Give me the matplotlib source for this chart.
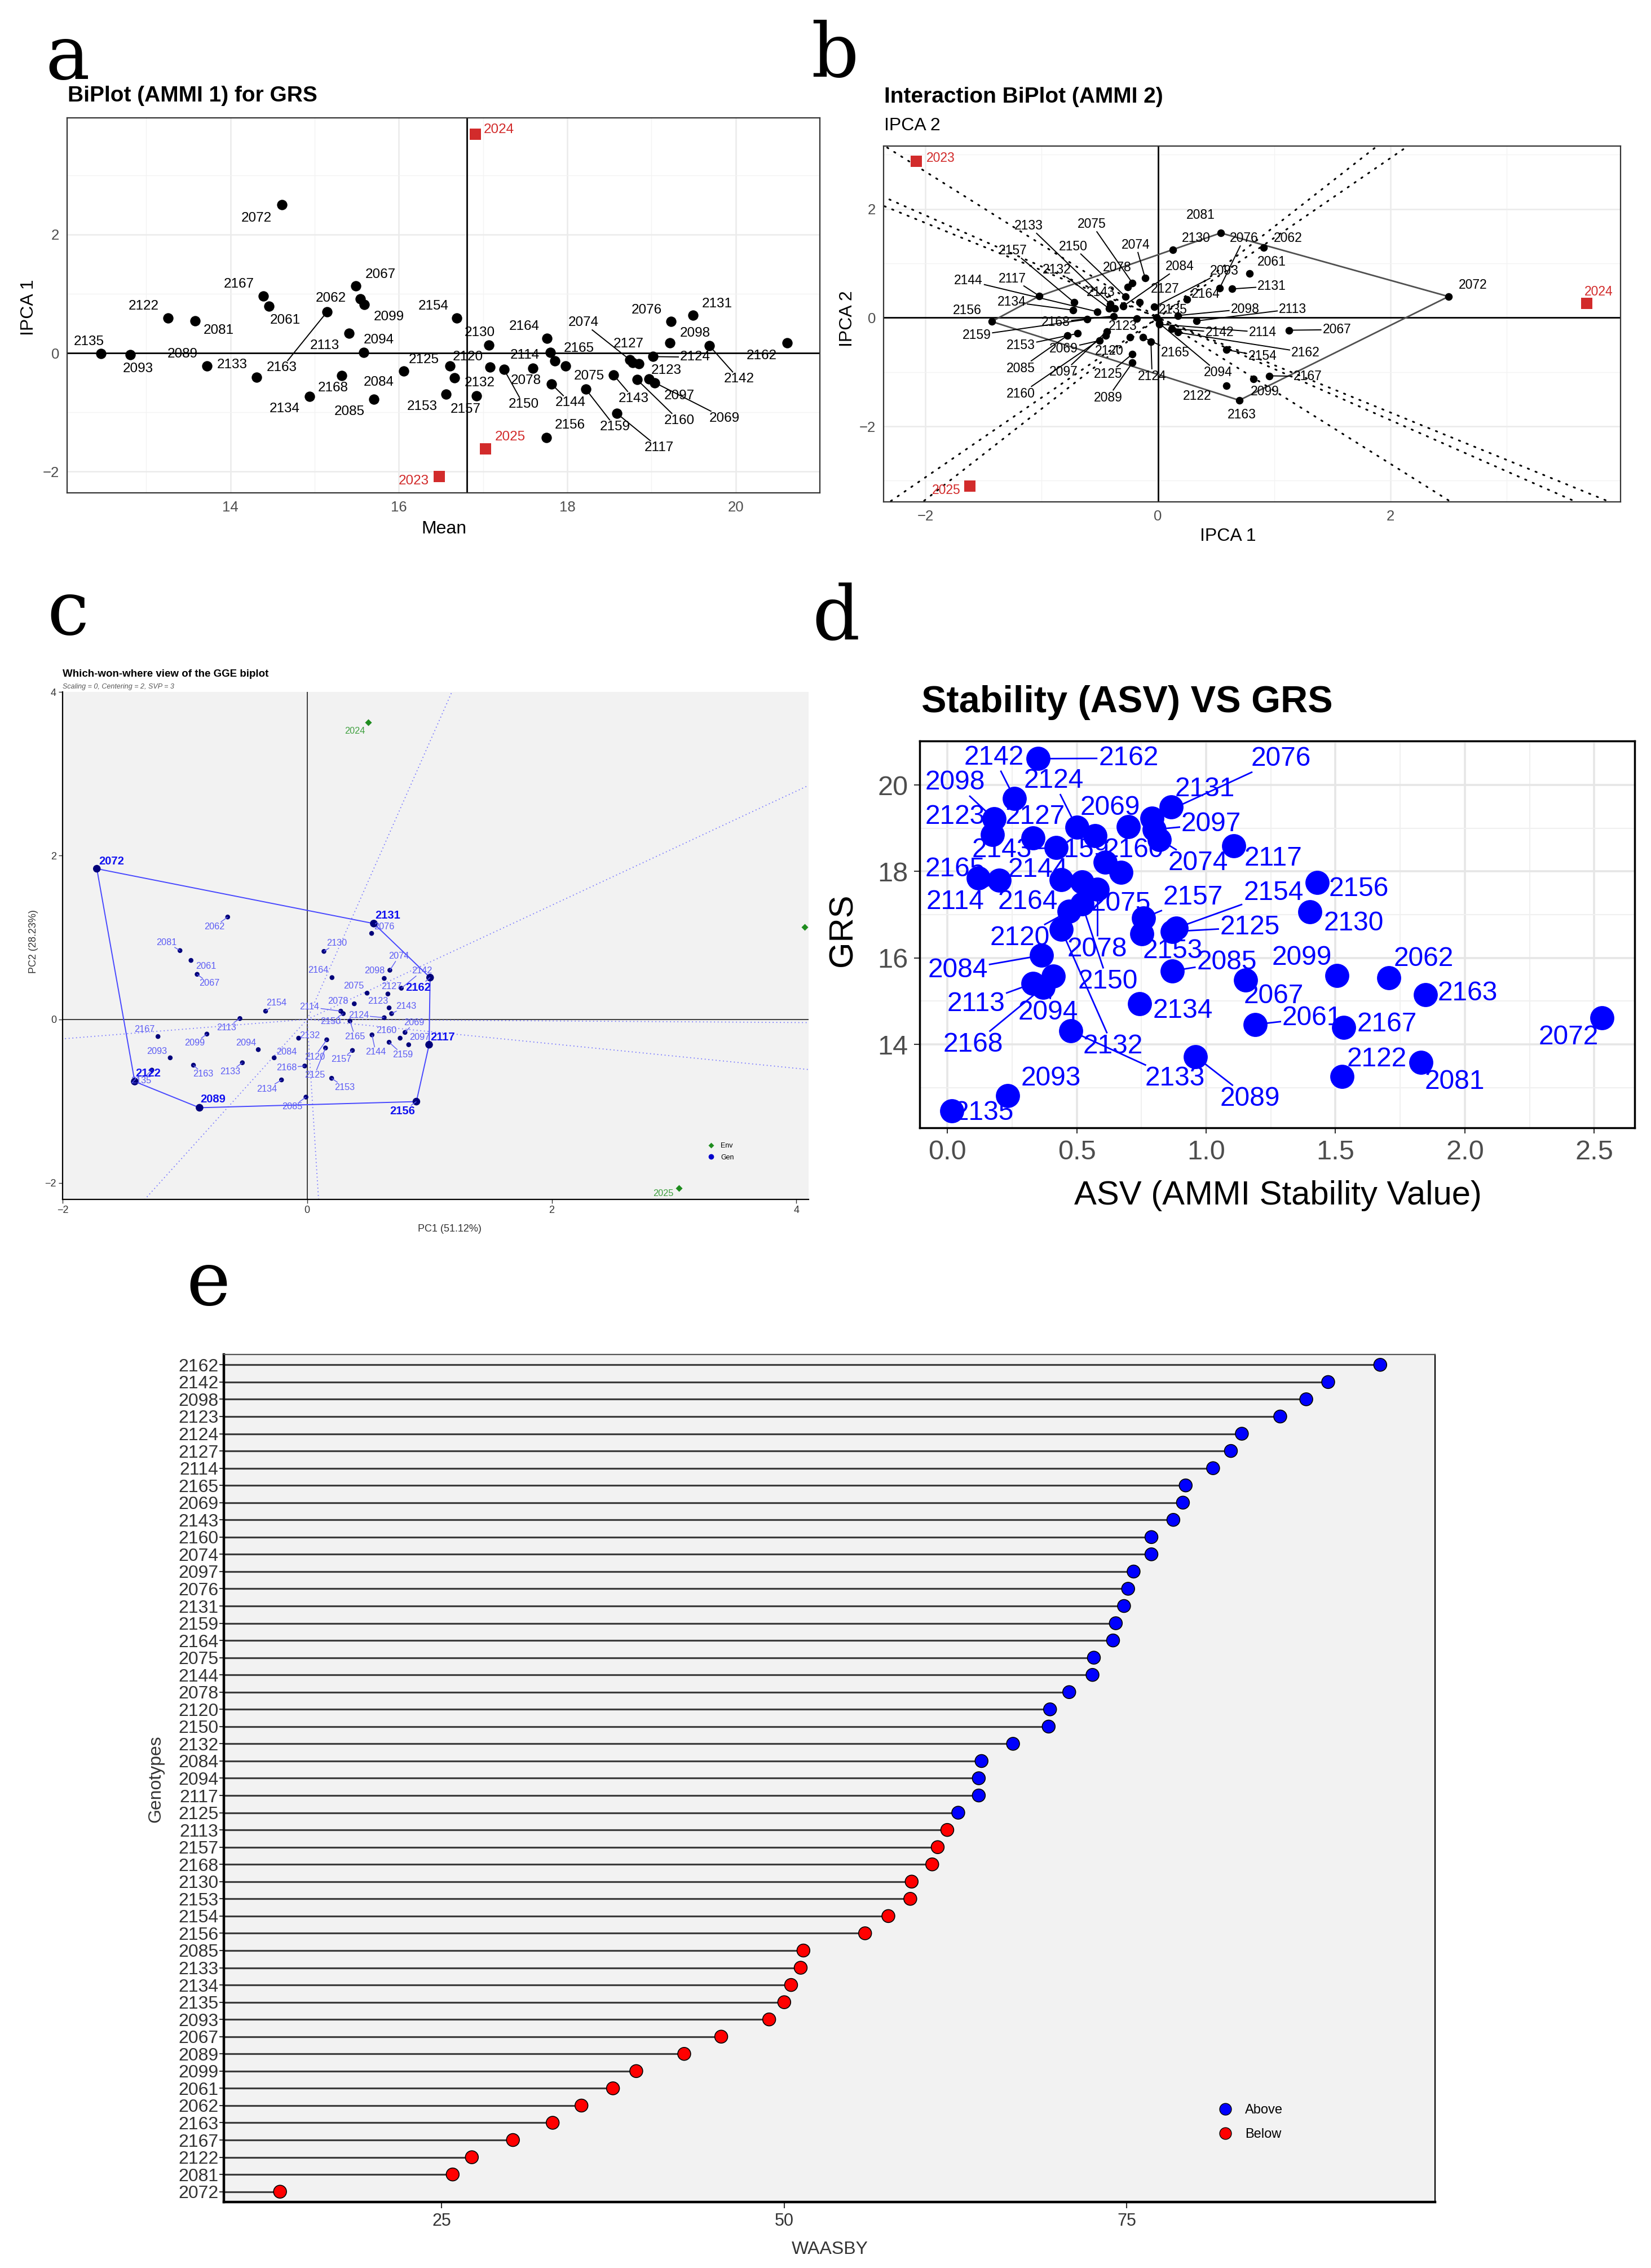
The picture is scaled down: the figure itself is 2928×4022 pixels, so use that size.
import numpy as np
import matplotlib
matplotlib.use("Agg")
import matplotlib.pyplot as plt
from matplotlib.lines import Line2D

plt.rcParams['font.family'] = ['Liberation Sans', 'DejaVu Sans']

# ---------------- data (genotypes in WAASBY rank order) ----------------
genotypes = ["2162", "2142", "2098", "2123", "2124", "2127", "2114", "2165", "2069", "2143",
             "2160", "2074", "2097", "2076", "2131", "2159", "2164", "2075", "2144", "2078",
             "2120", "2150", "2132", "2084", "2094", "2117", "2125", "2113", "2157", "2168",
             "2130", "2153", "2154", "2156", "2085", "2133", "2134", "2135", "2093", "2067",
             "2089", "2099", "2061", "2062", "2163", "2167", "2122", "2081", "2072"]
grs_mean = [20.61, 19.69, 19.22, 18.85, 19.02, 18.78, 17.80, 17.85, 19.04, 18.55,
            18.83, 18.74, 18.97, 19.23, 19.49, 18.22, 17.76, 17.98, 17.81, 17.59,
            17.08, 17.25, 16.66, 16.06, 15.58, 18.59, 16.61, 15.41, 16.92, 15.32,
            17.07, 16.56, 16.69, 17.75, 15.70, 14.31, 14.94, 12.46, 12.81, 15.49,
            13.72, 15.59, 14.46, 15.54, 15.15, 14.39, 13.26, 13.58, 14.61]
ipca1 = [0.17, 0.12, 0.17, -0.18, -0.06, -0.16, 0.01, -0.13, -0.50, -0.37,
         -0.45, -0.11, -0.44, 0.53, 0.64, -0.61, 0.25, -0.22, -0.52, -0.26,
         -0.24, -0.28, -0.42, -0.30, 0.01, -1.02, -0.22, 0.33, -0.72, -0.38,
         0.13, -0.69, 0.59, -1.43, -0.78, -0.41, -0.73, -0.01, -0.03, 1.13,
         -0.22, 0.82, 0.79, 0.91, 0.70, 0.96, 0.59, 0.54, 2.50]
ipca2 = [-0.27, -0.20, 0.04, -0.02, -0.44, 0.28, -0.12, -0.36, -0.42, 0.17,
         -0.33, 0.73, -0.25, 0.54, 0.53, -0.03, 0.34, 0.64, 0.11, 0.56,
         -0.36, 0.39, 0.17, 0.21, -0.10, 0.40, -0.67, -0.06, 0.28, 0.03,
         1.25, -0.29, -0.59, -0.07, -0.33, 0.25, 0.14, 0.00, 0.20, -0.23,
         -0.83, -1.13, 0.81, 1.29, -1.52, -1.07, -1.25, 1.56, 0.39]
asv = [0.35, 0.26, 0.18, 0.175, 0.50, 0.33, 0.20, 0.12, 0.70, 0.42,
       0.57, 0.82, 0.80, 0.79, 0.865, 0.61, 0.52, 0.67, 0.44, 0.58,
       0.47, 0.52, 0.44, 0.364, 0.41, 1.107, 0.87, 0.33, 0.757, 0.37,
       1.40, 0.752, 0.884, 1.43, 0.869, 0.478, 0.742, 0.017, 0.233, 1.152,
       0.959, 1.506, 1.19, 1.705, 1.847, 1.532, 1.526, 1.83, 2.53]
gge_pc1 = [1.005, 0.77, 0.63, 0.67, 0.63, 0.66, 0.275, 0.35, 0.80, 0.69,
           0.76, 0.676, 0.83, 0.527, 0.545, 0.67, 0.203, 0.49, 0.53, 0.385,
           0.16, 0.295, -0.07, -0.27, -0.40, 0.997, 0.15, -0.55, 0.37, -0.02,
           0.137, 0.20, -0.34, 0.893, -0.01, -0.53, -0.21, -1.27, -1.12, -0.90,
           -0.88, -0.82, -0.95, -0.65, -0.93, -1.22, -1.41, -1.04, -1.72]
gge_pc2 = [0.51, 0.38, 0.50, 0.14, 0.02, 0.31, 0.10, -0.02, -0.16, 0.07,
           -0.23, 0.60, -0.31, 1.05, 1.17, -0.28, 0.51, 0.32, -0.19, 0.19,
           -0.25, 0.07, -0.23, -0.47, -0.37, -0.31, -0.35, 0.01, -0.38, -0.57,
           0.83, -0.72, 0.10, -1.005, -0.95, -0.53, -0.74, -0.62, -0.47, 0.55,
           -1.08, -0.18, 0.72, 1.25, -0.56, -0.21, -0.76, 0.84, 1.84]
waasby = [93.5, 89.7, 88.1, 86.2, 83.4, 82.6, 81.3, 79.3, 79.1, 78.4,
          76.8, 76.8, 75.5, 75.1, 74.8, 74.2, 74.0, 72.6, 72.5, 70.8,
          69.4, 69.3, 66.7, 64.4, 64.2, 64.2, 62.7, 61.9, 61.2, 60.8,
          59.3, 59.2, 57.6, 55.9, 51.4, 51.2, 50.5, 50.0, 48.9, 45.4,
          42.7, 39.2, 37.5, 35.2, 33.1, 30.2, 27.2, 25.8, 13.2]

env_names = ["2023", "2024", "2025"]
env_mean = [16.48, 16.91, 17.03]
env_ipca1 = [-2.08, 3.69, -1.62]
env_ipca2 = [2.88, 0.26, -3.10]
env_pc1 = [4.07, 0.50, 3.04]
env_pc2 = [1.13, 3.63, -2.06]

# ---------------- label layout (label centres, data units) ----------------
lab_a = {"2135": (12.32, 0.19), "2093": (12.90, -0.27), "2122": (12.97, 0.79), "2081": (13.86, 0.38),
         "2089": (13.43, -0.02), "2133": (14.02, -0.20), "2167": (14.10, 1.16), "2061": (14.65, 0.55),
         "2072": (14.31, 2.28), "2062": (15.19, 0.92), "2067": (15.78, 1.32), "2099": (15.88, 0.61),
         "2113": (15.12, 0.12), "2094": (15.76, 0.22), "2163": (14.61, -0.25), "2168": (15.22, -0.59),
         "2134": (14.64, -0.94), "2085": (15.41, -0.99), "2084": (15.76, -0.49), "2153": (16.28, -0.90),
         "2125": (16.30, -0.11), "2154": (16.41, 0.79), "2130": (16.96, 0.34), "2120": (16.82, -0.07),
         "2132": (16.96, -0.50), "2157": (16.79, -0.95), "2150": (17.48, -0.87), "2078": (17.51, -0.47),
         "2164": (17.49, 0.45), "2114": (17.50, -0.04), "2165": (18.14, 0.08), "2144": (18.04, -0.84),
         "2156": (18.03, -1.22), "2074": (18.19, 0.51), "2127": (18.73, 0.15), "2075": (18.26, -0.39),
         "2159": (18.57, -1.25), "2143": (18.79, -0.77), "2117": (19.09, -1.60), "2124": (19.52, -0.07),
         "2123": (19.18, -0.29), "2097": (19.33, -0.72), "2160": (19.33, -1.14), "2069": (19.87, -1.10),
         "2076": (18.94, 0.72), "2131": (19.78, 0.83), "2098": (19.52, 0.33), "2142": (20.04, -0.44),
         "2162": (20.31, -0.05)}
seg_a = {"2163", "2150", "2144", "2074", "2159", "2143", "2117", "2124", "2160", "2069", "2142"}
env_lab_a = {"2023": (16.18, -2.16), "2024": (17.19, 3.77), "2025": (17.32, -1.42)}

lab_b = {"2081": (0.37, 1.89), "2130": (0.33, 1.46), "2076": (0.74, 1.46), "2062": (1.12, 1.46),
         "2061": (0.98, 1.03), "2131": (0.98, 0.58), "2113": (1.16, 0.16), "2098": (0.75, 0.16),
         "2093": (0.57, 0.86), "2164": (0.41, 0.43), "2084": (0.19, 0.94), "2074": (-0.19, 1.34),
         "2075": (-0.57, 1.72), "2150": (-0.73, 1.31), "2133": (-1.11, 1.69), "2157": (-1.25, 1.23),
         "2132": (-0.87, 0.88), "2078": (-0.35, 0.92), "2144": (-1.63, 0.68), "2117": (-1.25, 0.72),
         "2134": (-1.26, 0.29), "2143": (-0.49, 0.47), "2127": (0.06, 0.53), "2135": (0.13, 0.14),
         "2156": (-1.64, 0.13), "2168": (-0.88, -0.08), "2159": (-1.56, -0.32), "2123": (-0.30, -0.16),
         "2142": (0.53, -0.27), "2114": (0.90, -0.27), "2067": (1.54, -0.22), "2162": (1.27, -0.64),
         "2154": (0.90, -0.71), "2167": (1.29, -1.08), "2099": (0.92, -1.36), "2153": (-1.18, -0.51),
         "2069": (-0.81, -0.57), "2120": (-0.42, -0.61), "2165": (0.15, -0.64), "2085": (-1.18, -0.93),
         "2097": (-0.81, -1.00), "2125": (-0.43, -1.04), "2124": (-0.05, -1.08), "2094": (0.52, -1.01),
         "2160": (-1.18, -1.40), "2089": (-0.43, -1.47), "2122": (0.34, -1.44), "2163": (0.72, -1.79),
         "2072": (2.71, 0.60)}
env_lab_b = {"2023": (-1.87, 2.94), "2024": (3.79, 0.48), "2025": (-1.82, -3.18)}

lab_c = {"2072": (-1.60, 1.93), "2062": (-0.76, 1.13), "2081": (-1.15, 0.94), "2061": (-0.83, 0.65),
         "2067": (-0.80, 0.44), "2154": (-0.25, 0.20), "2113": (-0.66, -0.10), "2167": (-1.33, -0.12),
         "2099": (-0.92, -0.29), "2093": (-1.23, -0.39), "2094": (-0.50, -0.29), "2163": (-0.85, -0.67),
         "2133": (-0.63, -0.64), "2122": (-1.30, -0.66), "2135": (-1.36, -0.75), "2089": (-0.77, -0.98),
         "2084": (-0.17, -0.40), "2168": (-0.17, -0.59), "2134": (-0.33, -0.85), "2085": (-0.12, -1.07),
         "2132": (0.02, -0.20), "2120": (0.06, -0.46), "2125": (0.06, -0.68), "2153": (0.305, -0.83),
         "2157": (0.28, -0.49), "2131": (0.66, 1.27), "2076": (0.63, 1.13), "2130": (0.24, 0.93),
         "2164": (0.09, 0.60), "2074": (0.75, 0.77), "2098": (0.55, 0.59), "2142": (0.94, 0.59),
         "2162": (0.91, 0.39), "2127": (0.69, 0.40), "2075": (0.38, 0.41), "2123": (0.58, 0.22),
         "2143": (0.81, 0.16), "2124": (0.42, 0.05), "2078": (0.25, 0.22), "2114": (0.02, 0.15),
         "2150": (0.19, -0.03), "2165": (0.39, -0.21), "2069": (0.875, -0.04), "2160": (0.65, -0.14),
         "2097": (0.92, -0.22), "2117": (1.11, -0.22), "2144": (0.56, -0.40), "2159": (0.78, -0.43),
         "2156": (0.78, -1.125)}
env_lab_c = {"2024": (0.39, 3.52), "2025": (2.91, -2.13)}

lab_d = {"2162": (0.70, 20.62), "2142": (0.18, 20.64), "2098": (0.03, 20.06), "2124": (0.41, 20.10),
         "2123": (0.03, 19.27), "2127": (0.34, 19.27), "2069": (0.63, 19.48), "2131": (0.995, 19.91),
         "2076": (1.29, 20.61), "2097": (1.02, 19.10), "2074": (0.97, 18.19), "2117": (1.26, 18.30),
         "2143": (0.21, 18.50), "2159": (0.51, 18.50), "2160": (0.72, 18.49), "2165": (0.03, 18.05),
         "2144": (0.35, 18.04), "2114": (0.03, 17.29), "2164": (0.31, 17.29), "2075": (0.67, 17.25),
         "2157": (0.95, 17.40), "2154": (1.26, 17.50), "2125": (1.17, 16.71), "2156": (1.59, 17.59),
         "2130": (1.57, 16.80), "2120": (0.28, 16.46), "2078": (0.58, 16.20), "2153": (0.87, 16.16),
         "2085": (1.08, 15.90), "2099": (1.37, 16.01), "2062": (1.84, 15.98), "2084": (0.04, 15.72),
         "2150": (0.62, 15.45), "2067": (1.26, 15.12), "2163": (2.01, 15.18), "2113": (0.11, 14.93),
         "2094": (0.39, 14.74), "2134": (0.91, 14.78), "2061": (1.41, 14.61), "2167": (1.70, 14.46),
         "2072": (2.40, 14.16), "2168": (0.10, 13.99), "2132": (0.64, 13.95), "2122": (1.66, 13.66),
         "2081": (1.96, 13.13), "2133": (0.88, 13.21), "2089": (1.17, 12.74), "2093": (0.40, 13.21),
         "2135": (0.14, 12.42)}

# ---------------- figure helpers ----------------
W, H = 2928, 4022
fig = plt.figure(figsize=(W / 100, H / 100), dpi=100)


def axes_px(x0, y0, x1, y1):
    return fig.add_axes([x0 / W, 1 - y1 / H, (x1 - x0) / W, (y1 - y0) / H])


def ftext(x, y, s, **kw):
    return fig.text(x / W, 1 - y / H, s, **kw)


pending = []


def add_labels(ax, names, xs, ys, pos, fs, color, seg_color, seg_lw, minlen,
               zorder=4, weight='normal', force=None, bold_set=None, bold_fs=None, bold_color=None):
    for g, x, y in zip(names, xs, ys):
        if g not in pos:
            continue
        lx, ly = pos[g]
        w, f, c = weight, fs, color
        if bold_set is not None and g in bold_set:
            w, f, c = 'bold', bold_fs, bold_color
        t = ax.text(lx, ly, g, ha='center', va='center', fontsize=f, color=c,
                    fontweight=w, zorder=zorder, clip_on=True)
        pending.append((ax, t, g, x, y, seg_color, seg_lw, minlen, force))


def convex_hull(xs, ys):
    pts = sorted(set(zip(xs, ys)))

    def cross(o, a, b):
        return (a[0] - o[0]) * (b[1] - o[1]) - (a[1] - o[1]) * (b[0] - o[0])
    lower, upper = [], []
    for p in pts:
        while len(lower) >= 2 and cross(lower[-2], lower[-1], p) <= 0:
            lower.pop()
        lower.append(p)
    for p in reversed(pts):
        while len(upper) >= 2 and cross(upper[-2], upper[-1], p) <= 0:
            upper.pop()
        upper.append(p)
    return lower[:-1] + upper[:-1]


def perp_feet(hull):
    feet = []
    for i in range(len(hull)):
        P = np.array(hull[i]); Q = np.array(hull[(i + 1) % len(hull)])
        d = Q - P
        t = -np.dot(P, d) / np.dot(d, d)
        feet.append(P + t * d)
    return feet


tick_grey = '#4D4D4D'

# ======================= panel a =======================
axA = axes_px(119, 209, 1454, 874)
axA.set_xlim(12.06, 21.0)
axA.set_ylim(-2.36, 3.97)
axA.set_xticks([14, 16, 18, 20])
axA.set_yticks([-2, 0, 2])
axA.set_xticks([13, 15, 17, 19], minor=True)
axA.set_yticks([-1, 1, 3], minor=True)
axA.grid(which='major', color='#EBEBEB', lw=1.8)
axA.grid(which='minor', color='#F3F3F3', lw=1.0)
axA.set_axisbelow(True)
axA.tick_params(which='both', length=0, labelsize=18.5, labelcolor=tick_grey, pad=10)
for sp in axA.spines.values():
    sp.set_color('#333333'); sp.set_linewidth(1.6)
axA.axhline(0, color='black', lw=2.0, zorder=1.5)
axA.axvline(np.mean(env_mean), color='black', lw=2.0, zorder=1.5)
axA.scatter(grs_mean, ipca1, s=175, c='black', zorder=3, linewidths=0)
axA.scatter(env_mean, env_ipca1, s=210, marker='s', c='#D22B2B', zorder=3, linewidths=0)
add_labels(axA, genotypes, grs_mean, ipca1, lab_a, 17.5, 'black', 'black', 1.4, 0, force=seg_a)
for g, x, y in zip(env_names, env_mean, env_ipca1):
    lx, ly = env_lab_a[g]
    axA.text(lx, ly, g, ha='center', va='center', fontsize=17.5, color='#D22B2B', zorder=4)
ftext(120, 170, "BiPlot (AMMI 1) for GRS", fontsize=28, fontweight='bold', ha='left', va='center')
ftext(787, 938, "Mean", fontsize=23, ha='center', va='center')
ftext(51, 545, "IPCA 1", fontsize=23, ha='center', va='center', rotation=90)
ftext(120, 103, "a", fontsize=95, family='DejaVu Serif', ha='center', va='center')

# ======================= panel b =======================
axB = axes_px(1567, 259, 2874, 890)
axB.set_xlim(-2.36, 3.98)
axB.set_ylim(-3.39, 3.16)
axB.set_xticks([-2, 0, 2])
axB.set_yticks([-2, 0, 2])
axB.set_xticks([-1, 1, 3], minor=True)
axB.set_yticks([-3, -1, 1, 3], minor=True)
axB.grid(which='major', color='#EBEBEB', lw=1.8)
axB.grid(which='minor', color='#F3F3F3', lw=1.0)
axB.set_axisbelow(True)
axB.tick_params(which='both', length=0, labelsize=18.5, labelcolor=tick_grey, pad=10)
for sp in axB.spines.values():
    sp.set_color('#333333'); sp.set_linewidth(1.6)
axB.axhline(0, color='black', lw=2.0, zorder=1.5)
axB.axvline(0, color='black', lw=2.0, zorder=1.5)
hullB = convex_hull(ipca1, ipca2)
hb = hullB + [hullB[0]]
axB.plot([p[0] for p in hb], [p[1] for p in hb], color='#505050', lw=2.0, zorder=2)
for f in perp_feet(hullB):
    n = f / np.linalg.norm(f)
    axB.plot([-20 * n[0], 20 * n[0]], [-20 * n[1], 20 * n[1]], color='black', lw=2.2,
             linestyle=(0, (0.8, 4.0)), dash_capstyle='round', zorder=1.6)
axB.scatter(ipca1, ipca2, s=95, c='black', zorder=3, linewidths=0)
axB.scatter(env_ipca1, env_ipca2, s=210, marker='s', c='#D22B2B', zorder=3, linewidths=0)
add_labels(axB, genotypes, ipca1, ipca2, lab_b, 16.5, 'black', 'black', 1.4, 32)
for g in env_names:
    lx, ly = env_lab_b[g]
    axB.text(lx, ly, g, ha='center', va='center', fontsize=16.5, color='#D22B2B', zorder=4)
ftext(1568, 172, "Interaction BiPlot (AMMI 2)", fontsize=28, fontweight='bold', ha='left', va='center')
ftext(1568, 223, "IPCA 2", fontsize=23, ha='left', va='center')
ftext(1503, 565, "IPCA 2", fontsize=23, ha='center', va='center', rotation=90)
ftext(2178, 951, "IPCA 1", fontsize=23, ha='center', va='center')
ftext(1480, 99, "b", fontsize=95, family='DejaVu Serif', ha='center', va='center')

# ======================= panel c =======================
axC = axes_px(111, 1227, 1434, 2127)
axC.set_facecolor('#F2F2F2')
axC.set_xlim(-2.0, 4.1)
axC.set_ylim(-2.2, 4.0)
axC.set_xticks([-2, 0, 2, 4])
axC.set_yticks([-2, 0, 2, 4])
axC.tick_params(labelsize=13, labelcolor='#333333', length=5, width=1.0, color='#333333', pad=3)
for k in ['top', 'right']:
    axC.spines[k].set_visible(False)
for k in ['left', 'bottom']:
    axC.spines[k].set_color('black'); axC.spines[k].set_linewidth(1.6)
axC.axhline(0, color='#303030', lw=1.3, zorder=1.5)
axC.axvline(0, color='#303030', lw=1.3, zorder=1.5)
hullC = convex_hull(gge_pc1, gge_pc2)
hc = hullC + [hullC[0]]
axC.plot([p[0] for p in hc], [p[1] for p in hc], color='#4848FF', lw=1.4, zorder=2)
for f in perp_feet(hullC):
    n = f / np.linalg.norm(f)
    axC.plot([0, 20 * n[0]], [0, 20 * n[1]], color='#7C7CFF', lw=1.3,
             linestyle=(0, (1.0, 2.6)), zorder=1.7)
vert_names = set()
for p in hullC:
    for g, x, y in zip(genotypes, gge_pc1, gge_pc2):
        if x == p[0] and y == p[1]:
            vert_names.add(g)
sizes = [95 if g in vert_names else 38 for g in genotypes]
axC.scatter(gge_pc1, gge_pc2, s=sizes, c='#00007A', zorder=3, linewidths=0)
axC.scatter(env_pc1, env_pc2, s=38, marker='D', c='#1E8C1E', zorder=3, linewidths=0)
add_labels(axC, genotypes, gge_pc1, gge_pc2, lab_c, 11.7, '#5C5CF5', '#5C5CF5', 1.0, 10,
           bold_set=vert_names, bold_fs=14.5, bold_color='#1010F0')
for g in env_lab_c:
    lx, ly = env_lab_c[g]
    axC.text(lx, ly, g, ha='center', va='center', fontsize=11.7, color='#3FA03F', zorder=4)
legC = axC.legend(handles=[Line2D([], [], marker='D', color='none', markerfacecolor='#1E8C1E',
                                  markeredgecolor='none', markersize=5),
                           Line2D([], [], marker='o', color='none', markerfacecolor='#0000CC',
                                  markeredgecolor='none', markersize=7)],
                  labels=['Env', 'Gen'], loc='center', bbox_to_anchor=(0.88, 0.094),
                  frameon=False, fontsize=9, handletextpad=0.4, labelspacing=0.7)
ftext(111, 1195, "Which-won-where view of the GGE biplot", fontsize=13.5, fontweight='bold',
      ha='left', va='center')
ftext(111, 1218, "Scaling = 0, Centering = 2, SVP = 3", fontsize=9, style='italic', color='#555555',
      ha='left', va='center')
ftext(797, 2180, "PC1 (51.12%)", fontsize=13, ha='center', va='center', color='#333333')
ftext(59, 1670, "PC2 (28.23%)", fontsize=13, ha='center', va='center', rotation=90, color='#333333')
ftext(120, 1089, "c", fontsize=95, family='DejaVu Serif', ha='center', va='center')

# ======================= panel d =======================
axD = axes_px(1631, 1314, 2899, 2000)
axD.set_xlim(-0.107, 2.656)
axD.set_ylim(12.07, 21.02)
axD.set_xticks([0.0, 0.5, 1.0, 1.5, 2.0, 2.5])
axD.set_xticklabels(["0.0", "0.5", "1.0", "1.5", "2.0", "2.5"])
axD.set_yticks([14, 16, 18, 20])
axD.set_xticks([0.25, 0.75, 1.25, 1.75, 2.25], minor=True)
axD.set_yticks([13, 15, 17, 19, 21], minor=True)
axD.grid(which='major', color='#E6E6E6', lw=2.6)
axD.grid(which='minor', color='#F0F0F0', lw=1.5)
axD.set_axisbelow(True)
axD.tick_params(which='major', labelsize=35, labelcolor=tick_grey, length=7, width=1.5,
                color='#333333', pad=8)
axD.tick_params(which='minor', length=0)
for sp in axD.spines.values():
    sp.set_color('black'); sp.set_linewidth(2.5)
axD.scatter(asv, grs_mean, s=950, c='#0000FF', zorder=3, linewidths=0)
add_labels(axD, genotypes, asv, grs_mean, lab_d, 34.5, '#0000FF', '#0000FF', 2.0, 33, zorder=2)
ftext(1634, 1246, "Stability (ASV) VS GRS", fontsize=48, fontweight='bold', ha='left', va='center')
ftext(2266, 2121, "ASV (AMMI Stability Value)", fontsize=43, ha='center', va='center')
ftext(1495, 1649, "GRS", fontsize=43, ha='center', va='center', rotation=90)
ftext(1483, 1098, "d", fontsize=95, family='DejaVu Serif', ha='center', va='center')

# ======================= panel e =======================
axE = axes_px(397, 2402, 2545, 3905)
axE.set_facecolor('#F2F2F2')
axE.set_xlim(9.1, 97.5)
ypos = np.arange(len(genotypes))
axE.set_ylim(len(genotypes) - 1 + 0.6, -0.6)
wmean = np.mean(waasby)
colsE = ['#0000FF' if v > wmean else '#FF0000' for v in waasby]
axE.hlines(ypos, axE.get_xlim()[0], waasby, color='#3C3C3C', lw=2.3, zorder=2)
axE.scatter(waasby, ypos, s=270, c=colsE, edgecolors='black', linewidths=1.2, zorder=3)
axE.set_yticks(ypos)
axE.set_yticklabels(genotypes)
axE.set_xticks([25, 50, 75])
axE.tick_params(axis='y', labelsize=23, labelcolor='#333333', length=6, width=1.5, pad=1, color='#333333')
axE.tick_params(axis='x', labelsize=22, labelcolor='#333333', length=8, width=1.5, pad=6, color='#333333')
axE.spines['left'].set_linewidth(3.2); axE.spines['left'].set_color('black')
axE.spines['bottom'].set_linewidth(3.2); axE.spines['bottom'].set_color('black')
axE.spines['top'].set_linewidth(1.6); axE.spines['top'].set_color('#555555')
axE.spines['right'].set_linewidth(1.6); axE.spines['right'].set_color('black')
legE = axE.legend(handles=[Line2D([], [], marker='o', color='none', markerfacecolor='#0000FF',
                                  markeredgecolor='black', markersize=15),
                           Line2D([], [], marker='o', color='none', markerfacecolor='#FF0000',
                                  markeredgecolor='black', markersize=15)],
                  labels=['Above', 'Below'], loc='center', bbox_to_anchor=(0.845, 0.094),
                  frameon=False, fontsize=17, handletextpad=0.5, labelspacing=0.9)
ftext(1472, 3989, "WAASBY", fontsize=23, ha='center', va='center', color='#333333')
ftext(276, 3155, "Genotypes", fontsize=23, ha='center', va='center', rotation=90, color='#333333')
ftext(369, 2278, "e", fontsize=95, family='DejaVu Serif', ha='center', va='center')

# ---------------- leader segments (ggrepel style) ----------------
fig.canvas.draw()
rend = fig.canvas.get_renderer()
for ax, t, g, x, y, sc, slw, minlen, force in pending:
    bb = t.get_window_extent(rend)
    cx, cy = (bb.x0 + bb.x1) / 2, (bb.y0 + bb.y1) / 2
    px, py = ax.transData.transform((x, y))
    dx, dy = px - cx, py - cy
    hw, hh = bb.width / 2 + 2, bb.height / 2 + 1
    if abs(dx) <= hw and abs(dy) <= hh:
        continue
    tx = hw / abs(dx) if dx != 0 else np.inf
    ty = hh / abs(dy) if dy != 0 else np.inf
    tt = min(tx, ty)
    ex, ey = cx + tt * dx, cy + tt * dy
    length = np.hypot(px - ex, py - ey)
    if force is not None:
        if g not in force:
            continue
    elif length < minlen:
        continue
    exd, eyd = ax.transData.inverted().transform((ex, ey))
    ax.plot([x, exd], [y, eyd], color=sc, lw=slw, zorder=t.get_zorder() - 0.6,
            solid_capstyle='butt')

fig.savefig("out.png", dpi=100)
